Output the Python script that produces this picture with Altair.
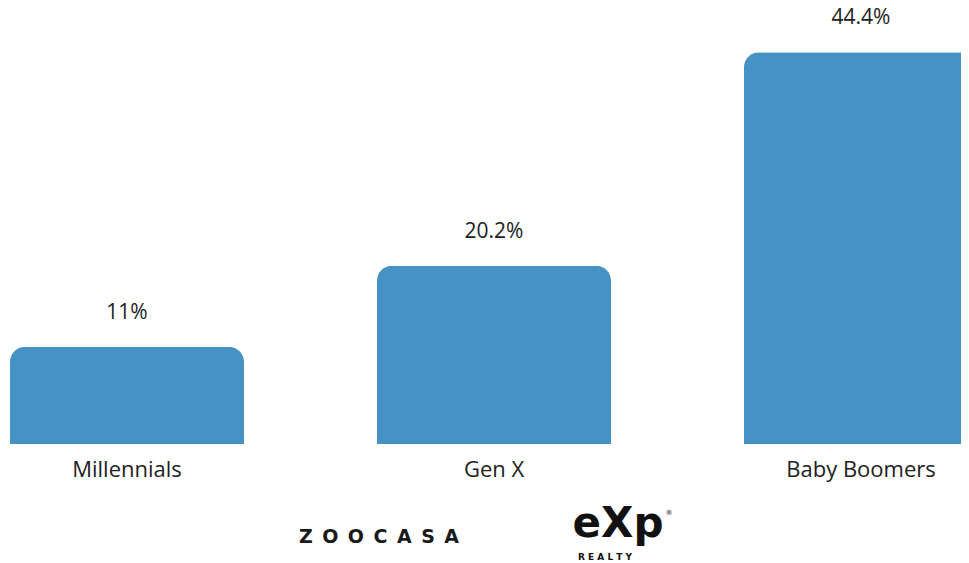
import altair as alt
import pandas as pd

categories = ["Millennials", "Gen X", "Baby Boomers"]
values = [11, 20.2, 44.4]
value_labels = ["11%", "20.2%", "44.4%"]

logo_zoocasa = ["Z\u2002O\u2002O\u2002C\u2002A\u2002S\u2002A"]
logo_exp = ["eXp"]
logo_realty = ["R E A L T Y"]
logo_reg = ["®"]

df = pd.DataFrame({"cat": categories, "val": values, "lab": value_labels,
                   "idx": list(range(len(categories)))})

FONT = "Open Sans"
TXT = "#222222"

x = alt.X("idx:Q", axis=None,
          scale=alt.Scale(domain=[-0.3243, 2.2725], nice=False, zero=False, padding=0))
y = alt.Y("val:Q", axis=None, scale=alt.Scale(domain=[0, 49.4], nice=False, zero=True))

base = alt.Chart(df)
bars = base.mark_bar(color="#4692c4", cornerRadiusTopLeft=15, cornerRadiusTopRight=15,
                     size=234).encode(x=x, y=y)
vals = base.mark_text(font=FONT, fontSize=21, color=TXT, dy=-28,
                      baseline="alphabetic").encode(x=x, y=y, text="lab:N")
cats = base.mark_text(font=FONT, fontSize=22, color=TXT, dy=33,
                      baseline="alphabetic").encode(x=x, y=alt.datum(0), text="cat:N")

zoo = alt.Chart(pd.DataFrame({"t": logo_zoocasa})).mark_text(
    font="DejaVu Sans", fontWeight="bold", fontSize=19, color="#1a1a1a", baseline="alphabetic"
).encode(x=alt.value(371), y=alt.value(535), text="t:N")
exp = alt.Chart(pd.DataFrame({"t": logo_exp})).mark_text(
    font="DejaVu Sans", fontWeight="bold", fontSize=42, color="#111111", baseline="alphabetic"
).encode(x=alt.value(610), y=alt.value(529), text="t:N")
realty = alt.Chart(pd.DataFrame({"t": logo_realty})).mark_text(
    font="DejaVu Sans", fontWeight="bold", fontSize=9, color="#111111", baseline="alphabetic"
).encode(x=alt.value(597), y=alt.value(552), text="t:N")
reg = alt.Chart(pd.DataFrame({"t": logo_reg})).mark_text(
    font="DejaVu Sans", fontSize=7, color="#111111", baseline="alphabetic"
).encode(x=alt.value(661), y=alt.value(507), text="t:N")

chart = alt.layer(bars, vals, cats, zoo, exp, realty, reg).properties(
    width=953, height=436,
    padding={"left": 0, "top": 0, "right": 0, "bottom": 118},
    autosize=alt.AutoSizeParams(type="none"),
    background="white"
).configure_view(stroke=None)

chart.save("out.html", embed_options={"renderer": "svg", "actions": False})
